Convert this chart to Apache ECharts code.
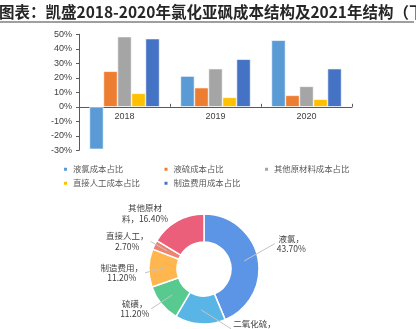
<!DOCTYPE html>
<html>
<head>
<meta charset="utf-8">
<script src="https://cdn.jsdelivr.net/npm/echarts@6/dist/echarts.min.js"></script>
<style>
  html, body { margin: 0; padding: 0; background: #fff; }
  #chart { width: 416px; height: 329px; }
</style>
</head>
<body>
<div id="chart"></div>
<script>
// Cost structure of thionyl chloride (2018-2020), in percent
const years = ['2018', '2019', '2020'];
const seriesNames = ['液氯成本占比', '液硫成本占比', '其他原材料成本占比', '直接人工成本占比', '制造费用成本占比'];
const chlorineShare = [-29.3, 21.2, 45.9];
const sulfurShare = [24.5, 13.2, 7.9];
const otherMaterialShare = [48.4, 26.3, 14.1];
const laborShare = [9.3, 6.5, 5.2];
const overheadShare = [47.0, 32.8, 26.3];
const barColors = ['#5B9BD5', '#ED7D31', '#A5A5A5', '#FFC000', '#4472C4'];

// 2021 cost structure (donut), in percent
const pieNames = ['液氯', '二氧化硫', '硫磺', '制造费用', '直接人工', '其他原材料'];
const pieValues = [43.7, 14.8, 11.2, 11.2, 2.7, 16.4];
const pieColors = ['#5D95E6', '#58B5E5', '#58C98F', '#FFB64F', '#EF8270', '#EB5F7A'];

const titleText = '图表：凯盛2018-2020年氯化亚砜成本结构及2021年结构（下同）';

// donut geometry, label nudges [dx, dy] and which labels get a guide line
const pieCenter = [204, 269];
const pieRadius = [27, 55];
const labelNudge = [[0, -13], [0, 0], [5, 0], [13, 5], [12, 0], [6, -1]];
const showGuide = [true, true, true, true, true, false];

const barData = [chlorineShare, sulfurShare, otherMaterialShare, laborShare, overheadShare];
const cjk = '"Noto Sans CJK SC", sans-serif';
const latin = '"Liberation Sans", Arial, sans-serif';

const chart = echarts.init(document.getElementById('chart'), null, { renderer: 'canvas' });

// Final label boxes, filled in while the pie labels are laid out
const labelBoxes = {};

function pieLabelLayout(p) {
  const pts = p.labelLinePoints;
  const r = p.labelRect;
  if (p.dataIndex === 1 && pts) {
    // this label sits to the lower right of its slice
    const edge = pts[0];
    const left = edge[0] + 33;
    const cy = edge[1] + 5;
    labelBoxes[1] = { left: left, cy: cy, w: r.width, h: r.height };
    return { x: left, y: cy, align: 'left', verticalAlign: 'middle' };
  }
  const n = labelNudge[p.dataIndex] || [0, 0];
  const cx = r.x + r.width / 2 + n[0];
  const cy = r.y + r.height / 2 + n[1];
  labelBoxes[p.dataIndex] = { cx: cx, cy: cy, w: r.width, h: r.height };
  return { x: cx, y: cy, align: 'center', verticalAlign: 'middle' };
}

chart.setOption({
  animation: false,
  backgroundColor: '#fff',
  title: {
    text: titleText,
    left: -1,
    top: 4,
    padding: 0,
    textStyle: { fontFamily: cjk, fontSize: 15.5, fontWeight: 'bold', color: '#262626', lineHeight: 16 }
  },
  graphic: [{
    id: 'title-rule',
    type: 'line',
    shape: { x1: 0, y1: 22, x2: 414, y2: 22 },
    style: { stroke: '#7f7f7f', lineWidth: 1.5 },
    silent: true
  }],
  legend: {
    data: seriesNames,
    left: 62,
    top: 164,
    width: 300,
    padding: 0,
    itemGap: 3.5,
    itemWidth: 5,
    itemHeight: 5,
    icon: 'rect',
    textStyle: { fontFamily: cjk, fontSize: 8.4, color: '#595959', width: 86, lineHeight: 10.5 }
  },
  grid: { left: 79, right: 64, top: 34.3, bottom: 178.7, containLabel: false },
  xAxis: {
    type: 'category',
    data: years,
    axisLine: { onZero: true, lineStyle: { color: '#595959', width: 1 } },
    axisTick: { show: true, inside: true, length: 3, lineStyle: { color: '#595959' } },
    axisLabel: { fontFamily: latin, fontSize: 9, color: '#404040', margin: -38 }
  },
  yAxis: {
    type: 'value',
    min: -30,
    max: 50,
    interval: 10,
    axisLine: { show: true, lineStyle: { color: '#595959', width: 1 } },
    axisTick: { show: true, length: 3, lineStyle: { color: '#595959' } },
    splitLine: { show: false },
    axisLabel: { fontFamily: latin, fontSize: 9, color: '#404040', margin: 7, formatter: '{value}%' }
  },
  series: barData.map((vals, i) => ({
    type: 'bar',
    name: seriesNames[i],
    data: vals,
    barGap: '0%',
    barCategoryGap: '23%',
    itemStyle: { color: barColors[i], borderColor: '#fff', borderWidth: 0.6 }
  })).concat([{
    type: 'pie',
    center: pieCenter,
    radius: pieRadius,
    startAngle: 90,
    clockwise: true,
    avoidLabelOverlap: false,
    itemStyle: { borderColor: '#fff', borderWidth: 1.5 },
    label: {
      show: true,
      fontFamily: cjk,
      fontSize: 8.5,
      lineHeight: 10.5,
      color: '#404040',
      formatter: (p) => {
        const name = p.name === '其他原材料' ? '其他原材\n料' : p.name;
        const sep = p.name === '其他原材料' ? '，' : '，\n';
        return name + sep + p.value.toFixed(2) + '%';
      }
    },
    // default guide is only used to place the labels; visible guides are drawn below
    labelLine: { show: true, length: 8, length2: 6, lineStyle: { opacity: 0 } },
    labelLayout: pieLabelLayout,
    data: pieNames.map((n, i) => ({ name: n, value: pieValues[i], itemStyle: { color: pieColors[i] } }))
  }])
});

// Straight guide lines from the middle of each ring slice to its label
const total = pieValues.reduce((a, b) => a + b, 0);
const midR = (pieRadius[0] + pieRadius[1]) / 2;
let acc = 0;
const guides = [];
pieValues.forEach((v, i) => {
  const ang = (90 - (acc + v / 2) / total * 360) * Math.PI / 180;
  acc += v;
  const b = labelBoxes[i];
  if (!showGuide[i] || !b) return;
  const s = [pieCenter[0] + midR * Math.cos(ang), pieCenter[1] - midR * Math.sin(ang)];
  let ex;
  if (b.left != null) ex = b.left - 2;
  else ex = b.cx > s[0] ? b.cx - b.w / 2 - 2 : b.cx + b.w / 2 + 2;
  guides.push({
    id: 'guide-' + i,
    type: 'polyline',
    z: 10,
    silent: true,
    shape: { points: [s, [ex, b.cy]] },
    style: { stroke: '#c4c4c4', lineWidth: 1, fill: null }
  });
});
chart.setOption({ graphic: guides });
</script>
</body>
</html>
